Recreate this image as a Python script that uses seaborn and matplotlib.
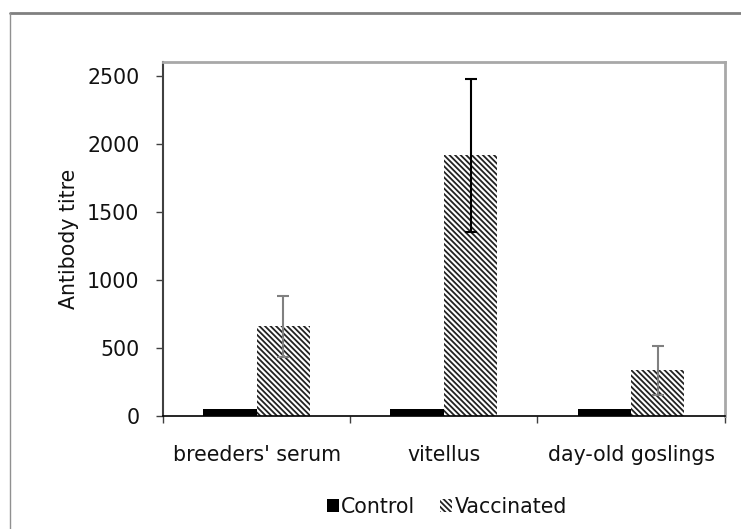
import numpy as np
import pandas as pd
import matplotlib
matplotlib.use("Agg")
import matplotlib.pyplot as plt
from matplotlib.lines import Line2D
import seaborn as sb

# data
categories = ["breeders' serum", "vitellus", "day-old goslings"]
groups = ["Control", "Vaccinated"]
control = [50, 50, 50]
vaccinated = [660, 1915, 335]
vaccinated_err = [225, 560, 180]

df = pd.DataFrame({
    "Sample": categories * 2,
    "Group": [groups[0]] * 3 + [groups[1]] * 3,
    "Titre": control + vaccinated,
})

sb.set_style("white")
plt.rcParams["font.family"] = ["DejaVu Sans"]
plt.rcParams["hatch.linewidth"] = 1.3
plt.rcParams["hatch.color"] = "#222222"

fs = 14.8
hatch = "\\\\\\\\\\\\"

fig = plt.figure(figsize=(7.41, 5.29), dpi=100)
ax = fig.add_axes([0.22, 0.2136, 0.758, 0.669])

sb.barplot(data=df, x="Sample", y="Titre", hue="Group", order=categories,
           hue_order=groups, palette=["black", "white"], width=0.57,
           gap=0, errorbar=None, edgecolor="none", linewidth=0, ax=ax,
           legend=False)

# hatch the vaccinated bars
for p in ax.containers[1]:
    p.set_hatch(hatch)
    p.set_edgecolor("#222222")
    p.set_linewidth(0)

# error bars on vaccinated bars
err_cols = ["#808080", "black", "#808080"]
for p, v, e, c in zip(ax.containers[1], vaccinated, vaccinated_err, err_cols):
    xc = p.get_x() + p.get_width() / 2
    ax.errorbar(xc, v, yerr=e, fmt="none", ecolor=c, elinewidth=1.5,
                capsize=4.5, capthick=1.5, zorder=5)

ax.set_xlim(-0.5, 2.5)
ax.set_ylim(0, 2600)
ax.set_yticks([0, 500, 1000, 1500, 2000, 2500])
ax.set_xlabel("")
ax.set_ylabel("Antibody titre", fontsize=fs, labelpad=6, color="#111111")
ax.tick_params(axis="y", labelsize=fs, length=5, width=1, direction="out",
               left=True, color="#404040", pad=12, labelcolor="#111111")
ax.tick_params(axis="x", labelsize=fs, length=0, pad=21, labelcolor="#111111")
ax.set_xticks([-0.5, 0.5, 1.5, 2.5], minor=True)
ax.tick_params(axis="x", which="minor", length=5, width=1, bottom=True,
               direction="out", color="#404040")

for s in ["top", "right"]:
    ax.spines[s].set_color("#a8a8a8")
    ax.spines[s].set_linewidth(2)
ax.spines["left"].set_color("#404040")
ax.spines["left"].set_linewidth(1.5)
ax.spines["bottom"].set_color("black")
ax.spines["bottom"].set_linewidth(1.2)

handles = [plt.Rectangle((0, 0), 1, 1, facecolor="black", edgecolor="none"),
           plt.Rectangle((0, 0), 1, 1, facecolor="white", edgecolor="#222222",
                         linewidth=0, hatch=hatch)]
fig.legend(handles, groups, loc="center", bbox_to_anchor=(0.603, 0.042),
           ncol=2, frameon=False, fontsize=fs, handlelength=0.6,
           handleheight=0.6, handletextpad=0.1, columnspacing=1.2,
           labelcolor="#111111")

# page frame lines
fig.add_artist(Line2D([0.013, 1.0], [0.975, 0.975], color="#808080", lw=2))
fig.add_artist(Line2D([0.013, 0.013], [0.0, 0.975], color="#909090", lw=1))

fig.savefig("out.png", dpi=100)
